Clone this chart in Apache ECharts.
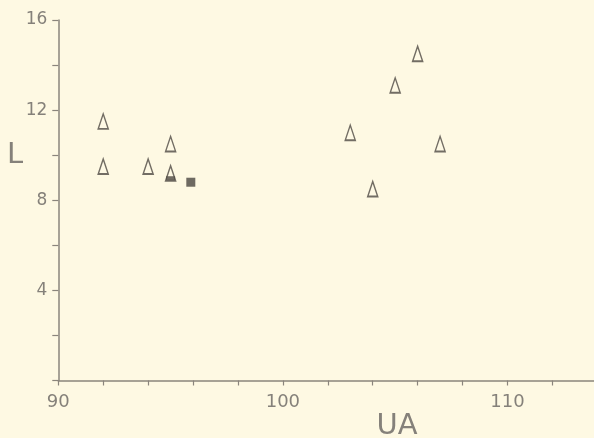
<!DOCTYPE html>
<html>
<head>
<meta charset="utf-8">
<script src="https://cdn.jsdelivr.net/npm/echarts@6/dist/echarts.min.js"></script>
<style>
  html, body { margin: 0; padding: 0; background: #fef9e3; }
  #chart { width: 594px; height: 438px; }
</style>
</head>
<body>
<div id="chart"></div>
<script>
// Open triangles: UA vs L
const openUA = [92, 92, 94, 95, 103, 104, 105, 106, 107];
const openL  = [11.5, 9.5, 9.5, 10.5, 11.0, 8.5, 13.1, 14.5, 10.5];
// Partly filled triangle
const halfUA = [95];
const halfL  = [9.2];
// Filled square
const squareUA = [95.9];
const squareL  = [8.8];

const xLabels = [90, 100, 110];
const yLabels = [4, 8, 12, 16];

const ink = '#4f4a43';
const axisGray = '#8a857c';
const textGray = '#85817a';
const bg = '#fef9e3';

const pairs = (xs, ys) => xs.map((x, i) => [x, ys[i]]);

const chart = echarts.init(document.getElementById('chart'));
chart.setOption({
  backgroundColor: bg,
  animation: false,
  grid: { left: 58.3, top: 20, right: -3.3, bottom: 57.5, containLabel: false,
          outerBoundsMode: 'none' },
  xAxis: {
    type: 'value', min: 90, max: 114, interval: 2,
    splitLine: { show: false },
    axisLine: { lineStyle: { color: axisGray, width: 1.5 } },
    axisTick: { length: 5, lineStyle: { color: axisGray, width: 1.2 } },
    axisLabel: {
      color: textGray, fontSize: 18, fontFamily: 'DejaVu Sans', margin: 13,
      formatter: v => xLabels.includes(v) ? String(v) : ''
    }
  },
  yAxis: {
    type: 'value', min: 0, max: 16, interval: 2,
    splitLine: { show: false },
    axisLine: { onZero: false, lineStyle: { color: axisGray, width: 1.5 } },
    axisTick: { length: 6, lineStyle: { color: axisGray, width: 1.2 } },
    axisLabel: {
      color: textGray, fontSize: 17, fontFamily: 'DejaVu Sans', margin: 11,
      formatter: v => yLabels.includes(v) ? String(v) : ''
    }
  },
  graphic: [
    { type: 'text', x: 15, y: 155,
      style: { text: 'L', fill: textGray, fontSize: 29, fontFamily: 'DejaVu Sans',
               align: 'center', verticalAlign: 'middle' } },
    { type: 'text', x: 397, y: 426,
      style: { text: 'UA', fill: textGray, fontSize: 29, fontFamily: 'DejaVu Sans',
               align: 'center', verticalAlign: 'middle' } }
  ],
  series: [
    {
      type: 'scatter', data: pairs(openUA, openL),
      symbol: 'triangle', symbolSize: [10, 15],
      itemStyle: { color: bg, borderColor: ink, borderWidth: 1.6 }
    },
    {
      type: 'scatter', data: pairs(halfUA, halfL),
      symbol: 'triangle', symbolSize: [10, 15],
      itemStyle: { color: bg, borderColor: ink, borderWidth: 1.6 }
    },
    {
      type: 'scatter', data: pairs(halfUA, halfL),
      symbol: 'rect', symbolSize: [9, 4], symbolOffset: [0, 5],
      itemStyle: { color: ink }
    },
    {
      type: 'scatter', data: pairs(squareUA, squareL),
      symbol: 'rect', symbolSize: 9,
      itemStyle: { color: '#4a4640' }
    }
  ]
});
</script>
</body>
</html>
